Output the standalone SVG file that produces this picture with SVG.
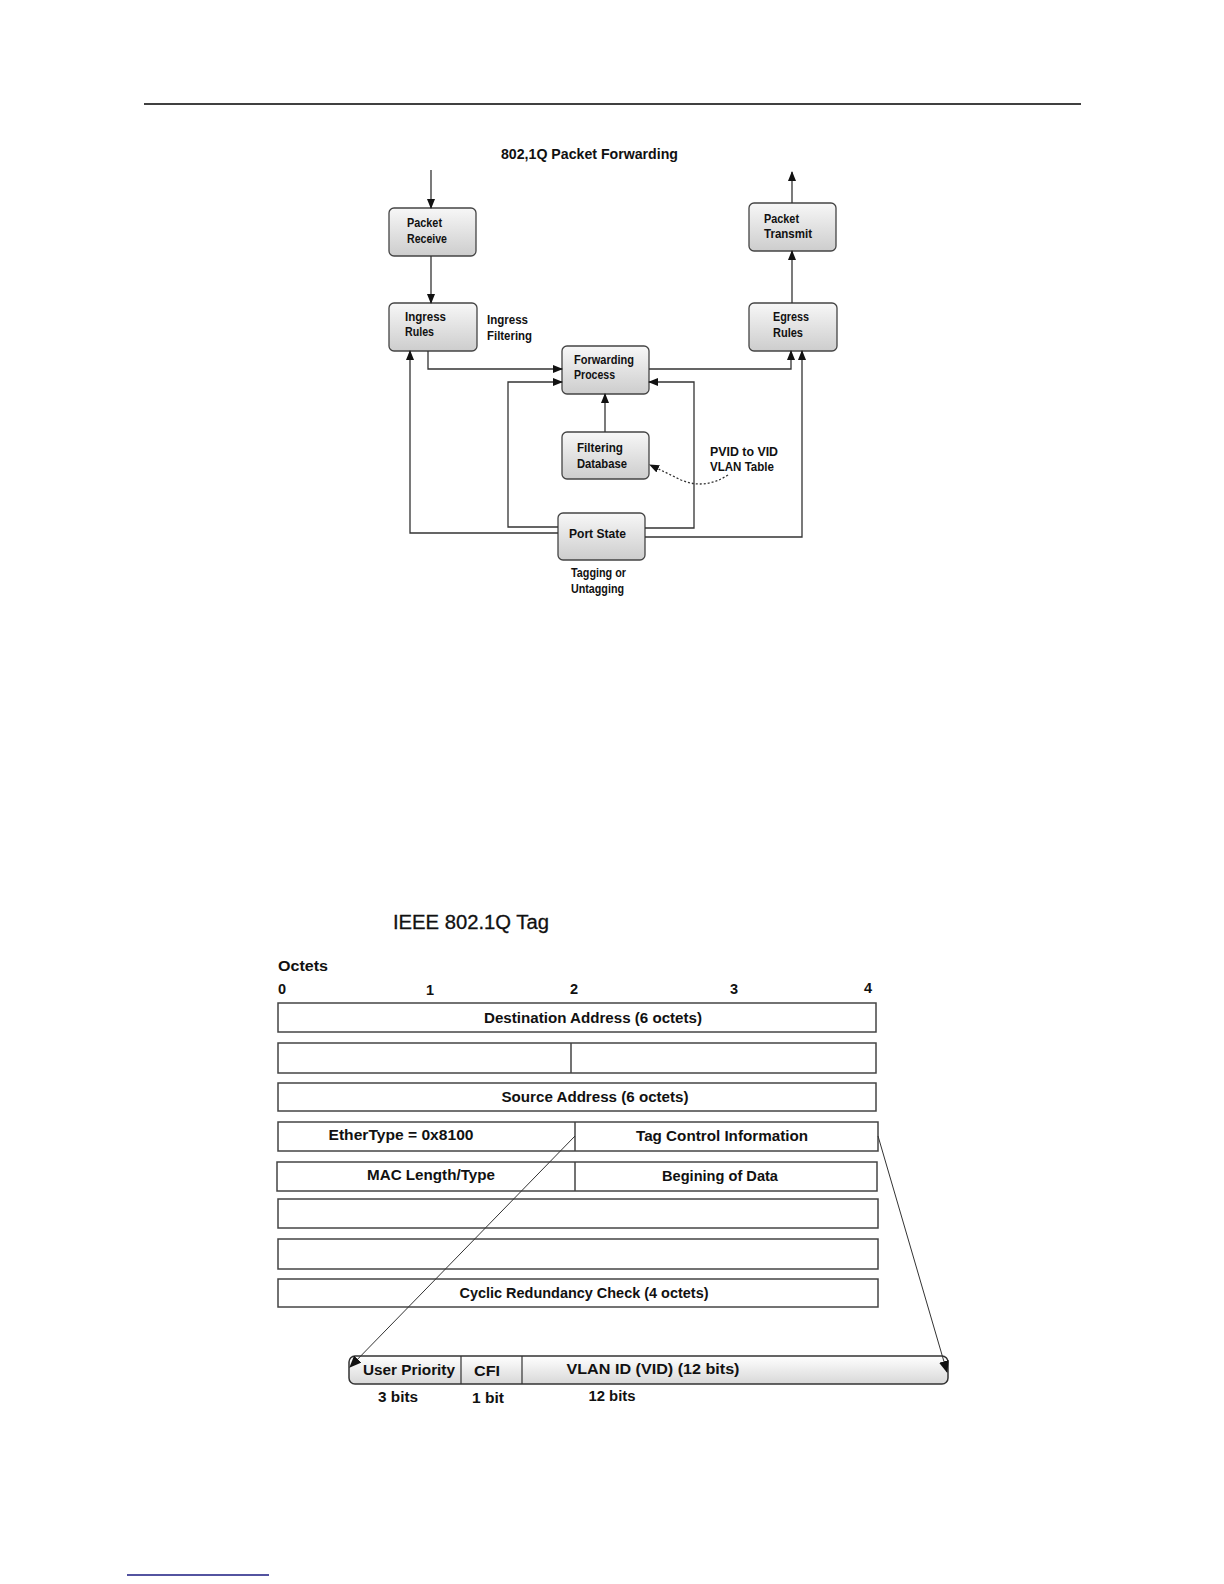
<svg xmlns="http://www.w3.org/2000/svg" width="1224" height="1584" viewBox="0 0 1224 1584">
<defs>
<linearGradient id="ng" x1="0" y1="0" x2="0" y2="1">
<stop offset="0" stop-color="#f7f7f7"/>
<stop offset="1" stop-color="#cdcdcd"/>
</linearGradient>
<linearGradient id="bg" x1="0" y1="0" x2="0" y2="1">
<stop offset="0" stop-color="#ffffff"/>
<stop offset="1" stop-color="#d8d8d8"/>
</linearGradient>
<marker id="ah" markerWidth="10" markerHeight="8" refX="9" refY="4" orient="auto" markerUnits="userSpaceOnUse">
<path d="M0,0 L10,4 L0,8 Z" fill="#111"/>
</marker>
<marker id="ahb" markerWidth="12" markerHeight="10" refX="11" refY="5" orient="auto" markerUnits="userSpaceOnUse">
<path d="M0,0 L12,5 L0,10 Z" fill="#111"/>
</marker>
</defs>
<style>
.node{fill:url(#ng);stroke:#444;stroke-width:1.3}
.t{font-family:"Liberation Sans",Arial,sans-serif;font-weight:bold;font-size:12px;fill:#111}
.b{font-family:"Liberation Sans",Arial,sans-serif;font-weight:bold;font-size:14.5px;fill:#111}
.ln{fill:none;stroke:#333;stroke-width:1.3}
.row{fill:none;stroke:#444;stroke-width:1.5}
.dv{stroke:#444;stroke-width:1.5}
</style>
<rect width="1224" height="1584" fill="#fff"/>
<line x1="144" y1="104" x2="1081" y2="104" stroke="#000" stroke-width="1.3"/>

<text class="b" x="501" y="159" font-size="15.5" textLength="177" lengthAdjust="spacingAndGlyphs">802,1Q Packet Forwarding</text>

<g id="packet-receive">
<rect class="node" x="389" y="208" width="87" height="48" rx="5"/>
<text class="t" x="407" y="227" textLength="35" lengthAdjust="spacingAndGlyphs">Packet</text>
<text class="t" x="407" y="243" textLength="40" lengthAdjust="spacingAndGlyphs">Receive</text>
</g>
<g id="ingress-rules">
<rect class="node" x="389" y="303" width="88" height="48" rx="5"/>
<text class="t" x="405" y="321" textLength="41" lengthAdjust="spacingAndGlyphs">Ingress</text>
<text class="t" x="405" y="336" textLength="29" lengthAdjust="spacingAndGlyphs">Rules</text>
</g>
<g id="ingress-filtering-label">
<text class="t" x="487" y="324" textLength="41" lengthAdjust="spacingAndGlyphs">Ingress</text>
<text class="t" x="487" y="340" textLength="45" lengthAdjust="spacingAndGlyphs">Filtering</text>
</g>
<g id="packet-transmit">
<rect class="node" x="749" y="203" width="87" height="48" rx="5"/>
<text class="t" x="764" y="223" textLength="35" lengthAdjust="spacingAndGlyphs">Packet</text>
<text class="t" x="764" y="238" textLength="48" lengthAdjust="spacingAndGlyphs">Transmit</text>
</g>
<g id="egress-rules">
<rect class="node" x="749" y="303" width="88" height="48" rx="5"/>
<text class="t" x="773" y="321" textLength="36" lengthAdjust="spacingAndGlyphs">Egress</text>
<text class="t" x="773" y="337" textLength="30" lengthAdjust="spacingAndGlyphs">Rules</text>
</g>
<g id="forwarding-process">
<rect class="node" x="562" y="346" width="87" height="48" rx="5"/>
<text class="t" x="574" y="364" textLength="60" lengthAdjust="spacingAndGlyphs">Forwarding</text>
<text class="t" x="574" y="379" textLength="41" lengthAdjust="spacingAndGlyphs">Process</text>
</g>
<g id="filtering-database">
<rect class="node" x="562" y="432" width="87" height="47" rx="5"/>
<text class="t" x="577" y="452" textLength="46" lengthAdjust="spacingAndGlyphs">Filtering</text>
<text class="t" x="577" y="468" textLength="50" lengthAdjust="spacingAndGlyphs">Database</text>
</g>
<g id="pvid-label">
<text class="t" x="710" y="456" textLength="68" lengthAdjust="spacingAndGlyphs">PVID to VID</text>
<text class="t" x="710" y="471" textLength="64" lengthAdjust="spacingAndGlyphs">VLAN Table</text>
</g>
<g id="port-state">
<rect class="node" x="558" y="513" width="87" height="47" rx="5"/>
<text class="t" x="569" y="538" textLength="57" lengthAdjust="spacingAndGlyphs">Port State</text>
</g>
<g id="tagging-label">
<text class="t" x="571" y="577" textLength="55" lengthAdjust="spacingAndGlyphs">Tagging or</text>
<text class="t" x="571" y="593" textLength="53" lengthAdjust="spacingAndGlyphs">Untagging</text>
</g>

<g id="tag-title">
<text x="393" y="929" font-family="Liberation Sans,Arial,sans-serif" font-size="20" font-weight="500" fill="#111" stroke="#111" stroke-width="0.3" textLength="156" lengthAdjust="spacingAndGlyphs">IEEE 802.1Q Tag</text>
<text class="b" x="278" y="971" textLength="50" lengthAdjust="spacingAndGlyphs">Octets</text>
<text class="b" x="278" y="994">0</text>
<text class="b" x="426" y="995">1</text>
<text class="b" x="570" y="994">2</text>
<text class="b" x="730" y="994">3</text>
<text class="b" x="864" y="993">4</text>
</g>

<g id="row-destination">
<rect class="row" x="278" y="1003" width="598" height="29"/>
<text class="b" x="593" y="1023" text-anchor="middle" textLength="218" lengthAdjust="spacingAndGlyphs">Destination Address (6 octets)</text>
</g>
<g id="row-2">
<rect class="row" x="278" y="1043" width="598" height="30"/>
<line class="dv" x1="571" y1="1043" x2="571" y2="1073"/>
</g>
<g id="row-source">
<rect class="row" x="278" y="1083" width="598" height="28"/>
<text class="b" x="595" y="1102" text-anchor="middle" textLength="187" lengthAdjust="spacingAndGlyphs">Source Address (6 octets)</text>
</g>
<g id="row-ethertype">
<rect class="row" x="278" y="1122" width="600" height="29"/>
<line class="dv" x1="575" y1="1122" x2="575" y2="1151"/>
<text class="b" x="401" y="1140" text-anchor="middle" textLength="145" lengthAdjust="spacingAndGlyphs">EtherType = 0x8100</text>
<text class="b" x="722" y="1141" text-anchor="middle" textLength="172" lengthAdjust="spacingAndGlyphs">Tag Control Information</text>
</g>
<g id="row-mac">
<rect class="row" x="277" y="1162" width="600" height="29"/>
<line class="dv" x1="575" y1="1162" x2="575" y2="1191"/>
<text class="b" x="431" y="1180" text-anchor="middle" textLength="128" lengthAdjust="spacingAndGlyphs">MAC Length/Type</text>
<text class="b" x="720" y="1181" text-anchor="middle" textLength="116" lengthAdjust="spacingAndGlyphs">Begining of Data</text>
</g>
<g id="row-6">
<rect class="row" x="278" y="1199" width="600" height="29"/>
</g>
<g id="row-7">
<rect class="row" x="278" y="1239" width="600" height="30"/>
</g>
<g id="row-crc">
<rect class="row" x="278" y="1279" width="600" height="28"/>
<text class="b" x="584" y="1298" text-anchor="middle" textLength="249" lengthAdjust="spacingAndGlyphs">Cyclic Redundancy Check (4 octets)</text>
</g>

<g id="tci-bar">
<rect x="349" y="1356" width="599" height="28" rx="6" fill="url(#bg)" stroke="#333" stroke-width="1.5"/>
<line x1="461" y1="1356" x2="461" y2="1384" stroke="#333" stroke-width="1.2"/>
<line x1="522" y1="1356" x2="522" y2="1384" stroke="#333" stroke-width="1.2"/>
<text class="b" x="409" y="1375" text-anchor="middle" textLength="92" lengthAdjust="spacingAndGlyphs">User Priority</text>
<text class="b" x="487" y="1376" text-anchor="middle" textLength="26" lengthAdjust="spacingAndGlyphs">CFI</text>
<text class="b" x="653" y="1374" text-anchor="middle" textLength="173" lengthAdjust="spacingAndGlyphs">VLAN ID (VID) (12 bits)</text>
<text class="b" x="398" y="1402" text-anchor="middle" textLength="40" lengthAdjust="spacingAndGlyphs">3 bits</text>
<text class="b" x="488" y="1403" text-anchor="middle" textLength="32" lengthAdjust="spacingAndGlyphs">1 bit</text>
<text class="b" x="612" y="1401" text-anchor="middle" textLength="47" lengthAdjust="spacingAndGlyphs">12 bits</text>
</g>

<line x1="127" y1="1575" x2="269" y2="1575" stroke="#1a1a80" stroke-width="1.5"/>

<g id="connectors">
<line class="ln" x1="431" y1="170" x2="431" y2="208" marker-end="url(#ah)"/>
<line class="ln" x1="431" y1="256" x2="431" y2="303" marker-end="url(#ah)"/>
<polyline class="ln" points="428,351 428,369 562,369" marker-end="url(#ah)"/>
<polyline class="ln" points="558,533 410,533 410,351" marker-end="url(#ah)"/>
<polyline class="ln" points="558,527 508,527 508,382 562,382" marker-end="url(#ah)"/>
<polyline class="ln" points="645,528 694,528 694,382 649,382" marker-end="url(#ah)"/>
<polyline class="ln" points="645,537 802,537 802,351" marker-end="url(#ah)"/>
<polyline class="ln" points="649,369 791,369 791,351" marker-end="url(#ah)"/>
<line class="ln" x1="605" y1="432" x2="605" y2="394" marker-end="url(#ah)"/>
<line class="ln" x1="792" y1="303" x2="792" y2="251" marker-end="url(#ah)"/>
<line class="ln" x1="792" y1="203" x2="792" y2="172" marker-end="url(#ah)"/>
<path class="ln" d="M728,475 Q705,490 681,480 Q665,472 650,465" stroke-dasharray="2,2" marker-end="url(#ah)"/>
<line x1="575" y1="1136" x2="350" y2="1367" stroke="#333" stroke-width="1" marker-end="url(#ahb)"/>
<line x1="878" y1="1136" x2="947" y2="1372" stroke="#333" stroke-width="1" marker-end="url(#ahb)"/>
</g>
</svg>
